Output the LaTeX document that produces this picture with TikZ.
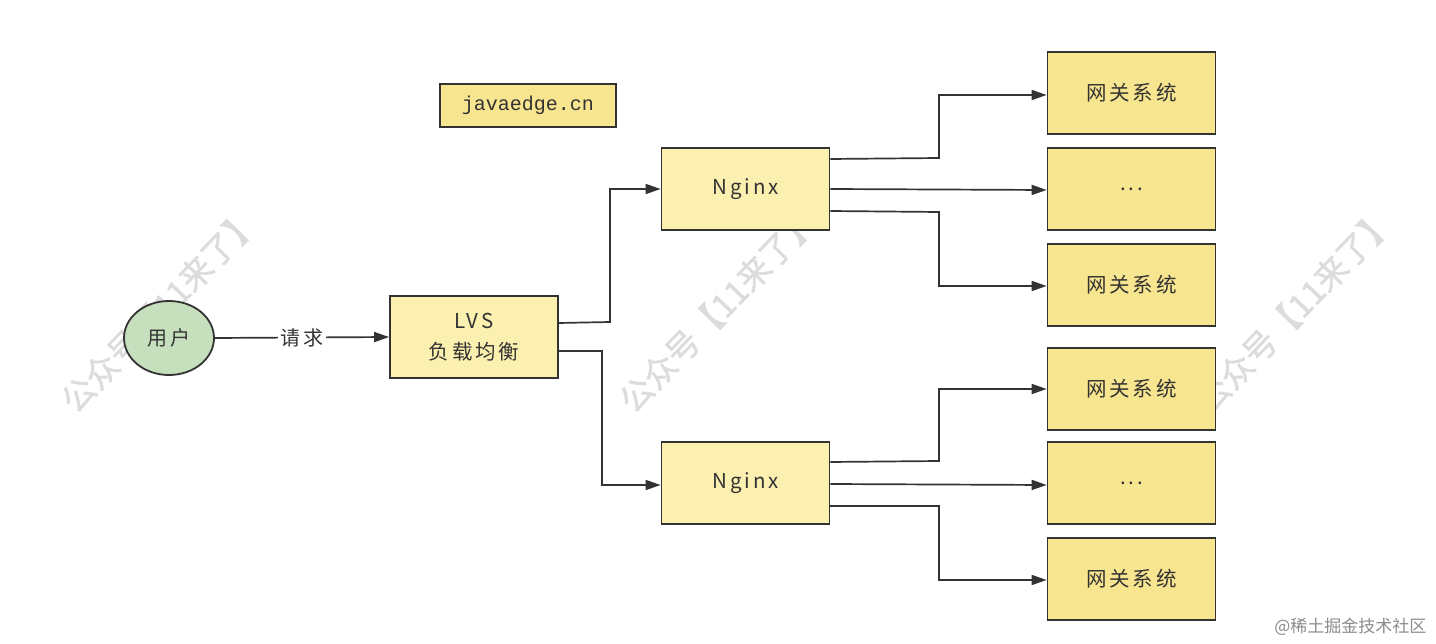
\documentclass[tikz,border=0pt]{standalone}
\usepackage{fontspec}
\usetikzlibrary{arrows.meta,shapes.geometric}
\newfontfamily\cjk[LetterSpace=14]{Noto Sans CJK SC}
\newfontfamily\cjkplain[FakeBold=1.2]{Noto Sans CJK SC}
\newfontfamily\cjkcredit{Noto Sans CJK SC}
\newfontfamily\monof{Liberation Mono}
\definecolor{ink}{HTML}{333333}
\definecolor{ylight}{HTML}{FCF0B0}
\definecolor{ydark}{HTML}{F8E58F}
\definecolor{ugreen}{HTML}{C6E0BE}
\definecolor{wm}{HTML}{DCDCDC}
\tikzset{
  box/.style={draw=ink, line width=1.8pt, minimum width=168pt, minimum height=82pt, inner sep=0pt, text=ink, font=\cjk\fontsize{20.5}{31}\selectfont, align=center},
  lbox/.style={box, fill=ylight},
  dbox/.style={box, fill=ydark},
  conn/.style={draw=ink, line width=1.7pt, -{Triangle[length=15pt,width=10pt]}},
  wmark/.style={text=wm, rotate=46, font=\cjkplain\fontsize{33}{33}\selectfont}
}
\begin{document}
\begin{tikzpicture}[x=1pt,y=-1pt]
\useasboundingbox (0,0) rectangle (1436,644);
\fill[white] (0,0) rectangle (1436,644);

% watermarks (behind)
\node[wmark] (wm1) at (160,310) {公众号【11来了】};
\node[wmark] (wm2) at (718,310) {公众号【11来了】};
\node[wmark] (wm3) at (1295,310) {公众号【11来了】};

% nodes
\node[ellipse, draw=ink, line width=1.8pt, fill=ugreen, minimum width=90pt, minimum height=74pt, inner sep=0pt, text=ink, font=\cjk\fontsize{20}{24}\selectfont] (user) at (169,338) {用户};
\node[lbox] (lvs) at (474,337) {LVS\\负载均衡};
\node[dbox, minimum width=176pt, minimum height=43pt, font=\monof\fontsize{20}{24}\selectfont] (site) at (528,105.5) {javaedge.cn};
\node[lbox] (ng1) at (745.5,189) {Nginx};
\node[lbox] (ng2) at (745.5,483) {Nginx};
\node[dbox] (g1) at (1131.5,93) {网关系统};
\node[dbox] (g2) at (1131.5,189) {...};
\node[dbox] (g3) at (1131.5,285) {网关系统};
\node[dbox] (g4) at (1131.5,389) {网关系统};
\node[dbox] (g5) at (1131.5,483) {...};
\node[dbox] (g6) at (1131.5,579) {网关系统};

% connectors
\draw[conn] (user.east) -- node[fill=white, inner sep=3pt, text=ink, font=\cjk\fontsize{20}{24}\selectfont] (req) {请求} (lvs.west);
\draw[conn] (lvs.east |- 0,323) -- (610,322) |- (ng1.west);
\draw[conn] (lvs.east |- 0,351) -- (602,351) |- (ng2.west |- 0,485);
\draw[conn] (ng1.east |- 0,159) -- (939,158) |- (g1.west |- 0,95);
\draw[conn] (ng1.east |- 0,189) -- (g2.west |- 0,190);
\draw[conn] (ng1.east |- 0,211) -- (939,212) |- (g3.west |- 0,286);
\draw[conn] (ng2.east |- 0,462) -- (939,461) |- (g4.west);
\draw[conn] (ng2.east |- 0,484) -- (g5.west |- 0,485);
\draw[conn] (ng2.east |- 0,506) -- (939,506) |- (g6.west |- 0,580);

\node[anchor=east, text=black!45, font=\cjkcredit\fontsize{17}{20}\selectfont] (credit) at (1430,627) {@稀土掘金技术社区};
\end{tikzpicture}
\end{document}
